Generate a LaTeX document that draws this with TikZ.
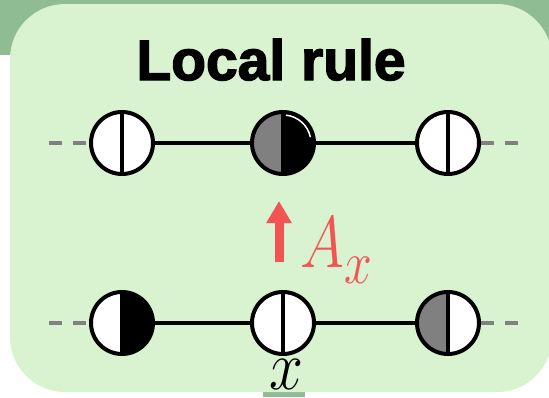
\documentclass[tikz,border=0pt]{standalone}
\usepackage{amsmath}
\usepackage{xcolor}
\usepackage{fontspec}
\newfontfamily\titlefont[FakeBold=2.4]{Liberation Sans Bold}
\usepackage{tikz}
\usetikzlibrary{arrows.meta}
\usetikzlibrary{calc}

\definecolor{band}{RGB}{143,188,147}
\definecolor{panel}{RGB}{217,242,208}
\definecolor{ruleRed}{RGB}{242,84,84}
\definecolor{halfGray}{RGB}{128,128,128}

\tikzset{
  site/.style 2 args={circle, draw=black, line width=4pt, minimum size=62pt, inner sep=0pt,
    path picture={
      \fill[#1] (path picture bounding box.south west) rectangle (path picture bounding box.north);
      \fill[#2] (path picture bounding box.south) rectangle (path picture bounding box.north east);
      \draw[line width=4pt] (path picture bounding box.south) -- (path picture bounding box.north);
    }},
  bond/.style={line width=4pt},
  tail/.style={line width=4pt, halfGray, dash pattern=on 13pt off 11pt},
}

\begin{document}
\begin{tikzpicture}[x=1pt, y=-1pt]
                \useasboundingbox (0,0) rectangle (549,397);
                % Background
                \fill[band] (0,0) rectangle (549,55);
                \fill[white] (0,55) rectangle (549,397);
                \fill[band] (263,385) rectangle (305,397);
                \fill[panel, rounded corners=55pt] (10,4) rectangle (552,392);
                \node[anchor=base, font=\titlefont\fontsize{57}{60}\selectfont] (title) at (271,80) {Local rule};
                % Top row
                \node[site={white}{white}] (t1) at (122,143) {};
                \node[site={halfGray}{black}] (t2) at (283,143) {};
                \node[site={white}{white}] (t3) at (448,143) {};
                \draw[white, line width=1.5pt] ($(t2)+(-84:28)$) arc(-84:-12:28);
                \draw[bond] (t1) -- (t2);
                \draw[bond] (t2) -- (t3);
                \coordinate (tl) at (49,143);
                \coordinate (tr) at (520,143);
                \draw[tail] (tl) -- (t1.west);
                \draw[tail] (t3.east) -- (tr);
                % Bottom row
                \node[site={white}{black}] (b1) at (122,323) {};
                \node[site={white}{white}] (b2) at (283,323) {};
                \node[site={halfGray}{white}] (b3) at (448,323) {};
                \draw[bond] (b1) -- (b2);
                \draw[bond] (b2) -- (b3);
                \coordinate (bl) at (49,323);
                \coordinate (br) at (520,323);
                \draw[tail] (bl) -- (b1.west);
                \draw[tail] (b3.east) -- (br);
                \node[anchor=base, inner sep=0pt, font=\Huge, xscale=2.45, yscale=2.8] (xlab) at (286,389) {$x$};
                % Rule arrow
                \coordinate (ab) at (279,262);
                \coordinate (at) at (279,201);
                \draw[ruleRed, line width=9pt, -{Triangle[width=24pt, length=22pt]}] (ab) -- (at);
                \node[anchor=base west, text=ruleRed, inner sep=0pt, font=\Huge, xscale=2.4, yscale=2.94] (ax) at (300,267) {$A_{\lower2pt\hbox{$\scriptstyle x$}}$};
            \end{tikzpicture}
\end{document}
